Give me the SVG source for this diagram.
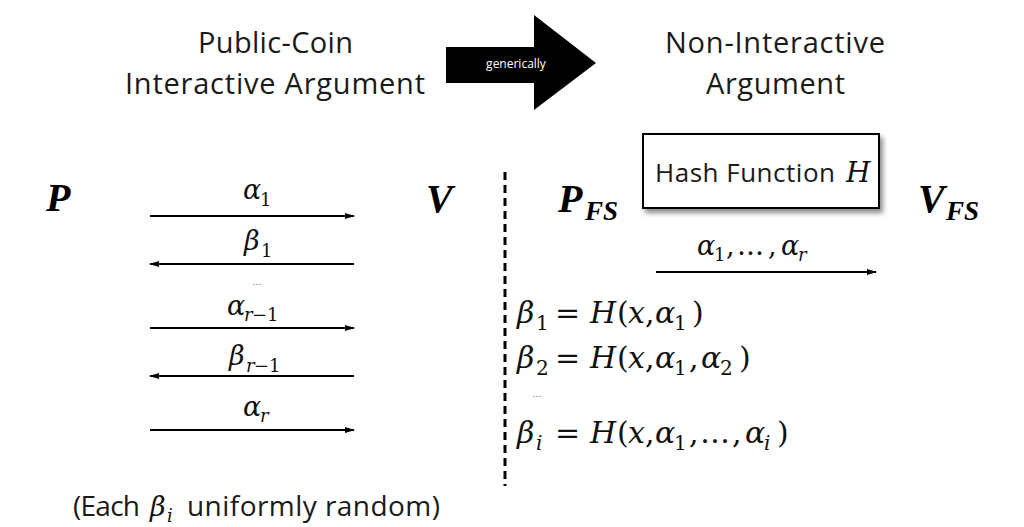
<svg xmlns="http://www.w3.org/2000/svg" width="1024" height="527" viewBox="0 0 1024 527">
<defs>
<marker id="ah" markerWidth="10" markerHeight="8" refX="9" refY="4" orient="auto" markerUnits="userSpaceOnUse">
<path d="M0,1 L10,4 L0,7 Z" fill="#000"/>
</marker>
<filter id="sh" x="-10%" y="-10%" width="130%" height="140%">
<feDropShadow dx="3" dy="4" stdDeviation="2.5" flood-color="#000" flood-opacity="0.45"/>
</filter>
<style>
.t{font-family:"Open Sans","Noto Sans",sans-serif;fill:#1a1a1a;}
.m{font-family:"DejaVu Serif","Liberation Serif",serif;font-style:italic;fill:#111;}
.mr{font-family:"DejaVu Serif","Liberation Serif",serif;font-style:normal;fill:#111;}
.b{font-family:"Liberation Serif","DejaVu Serif",serif;font-style:italic;font-weight:bold;fill:#000;}
.ln{stroke:#000;stroke-width:2;fill:none;}
.e{font-size:30px;}
.s{font-size:20px;}
.ls{font-size:27px;}
.lss{font-size:18px;}
.dots{font-family:"DejaVu Sans",sans-serif;font-size:9px;fill:#555;}
</style>
</defs>
<rect width="1024" height="527" fill="#fff"/>

<g id="title-left">
<text class="t" x="198" y="53" font-size="29" textLength="155">Public-Coin</text>
<text class="t" x="125" y="94" font-size="29" textLength="300">Interactive Argument</text>
</g>
<g id="big-arrow">
<path d="M446,47 L534,47 L534,15 L596,63 L534,110 L534,83 L446,83 Z" fill="#000"/>
<text x="516" y="68" font-family="Open Sans,Noto Sans,sans-serif" font-size="12" fill="#fff" text-anchor="middle">generically</text>
</g>
<g id="title-right">
<text class="t" x="665" y="53" font-size="29" textLength="220">Non-Interactive</text>
<text class="t" x="706" y="94" font-size="29" textLength="139">Argument</text>
</g>

<g id="P"><text class="b" x="46" y="211" font-size="40">P</text></g>
<g id="V"><text class="b" x="426" y="212" font-size="40">V</text></g>

<g id="connectors">
<line class="ln" x1="150" y1="216" x2="354" y2="216" marker-end="url(#ah)"/>
<line class="ln" x1="354" y1="264" x2="150" y2="264" marker-end="url(#ah)"/>
<line class="ln" x1="150" y1="328" x2="354" y2="328" marker-end="url(#ah)"/>
<line class="ln" x1="354" y1="376" x2="150" y2="376" marker-end="url(#ah)"/>
<line class="ln" x1="150" y1="430" x2="354" y2="430" marker-end="url(#ah)"/>
<line class="ln" x1="656" y1="272" x2="876" y2="272" marker-end="url(#ah)"/>
<line x1="505" y1="172" x2="505" y2="486" stroke="#000" stroke-width="3" stroke-dasharray="8,5"/>
</g>

<g id="labels-left">
<text class="m ls" x="243" y="199">α</text><text class="mr lss" x="260" y="206">1</text>
<text class="m ls" x="244" y="250">β</text><text class="mr lss" x="261" y="257">1</text>
<text class="dots" x="257" y="285" text-anchor="middle">…</text>
<text class="m ls" x="227" y="315">α</text><text class="m lss" x="244" y="321">r</text><text class="mr lss" x="252" y="321">−1</text>
<text class="m ls" x="229" y="365">β</text><text class="m lss" x="246" y="372">r</text><text class="mr lss" x="254" y="372">−1</text>
<text class="m ls" x="243" y="416">α</text><text class="m lss" x="260" y="422">r</text>
</g>

<g id="PFS"><text class="b" x="558" y="212" font-size="40">P</text><text class="b" x="585" y="220" font-size="27">FS</text></g>
<g id="hash">
<rect x="643" y="134" width="236" height="74" fill="#fff" stroke="#000" stroke-width="2" filter="url(#sh)"/>
<text class="t" x="655" y="182" font-size="26" textLength="180">Hash Function</text>
<text class="m" x="846" y="182" font-size="28">H</text>
</g>
<g id="VFS"><text class="b" x="918" y="212" font-size="40">V</text><text class="b" x="946" y="220" font-size="27">FS</text></g>

<g id="label-right">
<text class="m ls" x="697" y="255">α</text><text class="mr lss" x="714" y="261">1</text>
<text class="mr ls" x="726" y="255">,</text>
<text class="mr ls" x="737" y="255">…</text>
<text class="mr ls" x="768" y="255">,</text>
<text class="m ls" x="781" y="255">α</text><text class="m lss" x="798" y="261">r</text>
</g>

<g id="equations">
<text class="m e" x="517" y="323">β</text><text class="mr s" x="536" y="330">1</text>
<text class="mr e" x="555" y="323">=</text>
<text class="m e" x="590" y="323">H</text><text class="mr e" x="617" y="323">(</text>
<text class="m e" x="628" y="323">x</text><text class="mr e" x="645" y="323">,</text>
<text class="m e" x="655" y="323">α</text><text class="mr s" x="674" y="330">1</text>
<text class="mr e" x="692" y="323">)</text>

<text class="m e" x="517" y="368">β</text><text class="mr s" x="536" y="375">2</text>
<text class="mr e" x="555" y="368">=</text>
<text class="m e" x="590" y="368">H</text><text class="mr e" x="617" y="368">(</text>
<text class="m e" x="628" y="368">x</text><text class="mr e" x="645" y="368">,</text>
<text class="m e" x="655" y="368">α</text><text class="mr s" x="674" y="375">1</text>
<text class="mr e" x="689" y="368">,</text>
<text class="m e" x="701" y="368">α</text><text class="mr s" x="720" y="375">2</text>
<text class="mr e" x="739" y="368">)</text>

<text class="dots" x="537" y="397" text-anchor="middle">…</text>

<text class="m e" x="517" y="443">β</text><text class="m s" x="536" y="450">i</text>
<text class="mr e" x="555" y="443">=</text>
<text class="m e" x="590" y="443">H</text><text class="mr e" x="617" y="443">(</text>
<text class="m e" x="628" y="443">x</text><text class="mr e" x="645" y="443">,</text>
<text class="m e" x="655" y="443">α</text><text class="mr s" x="674" y="450">1</text>
<text class="mr e" x="689" y="443">,</text>
<text class="mr e" x="700" y="443">…</text>
<text class="mr e" x="732" y="443">,</text>
<text class="m e" x="745" y="443">α</text><text class="m s" x="764" y="450">i</text>
<text class="mr e" x="777" y="443">)</text>
</g>

<g id="footer">
<text class="t" x="73" y="516" font-size="28" textLength="67">(Each</text>
<text class="m" x="150" y="516" font-size="27">β</text><text class="m" x="167" y="522" font-size="18">i</text>
<text class="t" x="187" y="516" font-size="28" textLength="253">uniformly random)</text>
</g>
</svg>
